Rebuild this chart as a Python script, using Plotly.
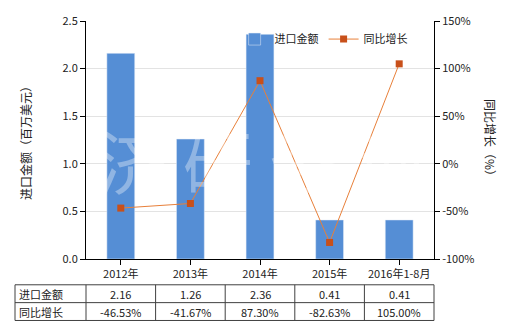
import plotly.graph_objects as go

categories = ["2012年", "2013年", "2014年", "2015年", "2016年1-8月"]
import_values = [2.16, 1.26, 2.36, 0.41, 0.41]
growth_values = [-46.53, -41.67, 87.30, -82.63, 105.00]
import_labels = ["2.16", "1.26", "2.36", "0.41", "0.41"]
growth_labels = ["-46.53%", "-41.67%", "87.30%", "-82.63%", "105.00%"]
left_ticks = [0, 0.5, 1.0, 1.5, 2.0, 2.5]
right_ticks = [-100, -50, 0, 50, 100, 150]
right_tick_text = ["-100%", "-50%", "0%", "50%", "100%", "150%"]

FONT = "Noto Sans CJK SC"
W, H = 520, 330
L, R, T, B = 86, 86, 19, 71
ph = H - T - B
pw = W - L - R

fig = go.Figure()
fig.add_trace(go.Bar(x=categories, y=import_values, name="进口金额",
                     marker_color="#558ED5", width=0.4, yaxis="y"))
fig.add_trace(go.Scatter(x=categories, y=growth_values, name="同比增长", yaxis="y2",
                         mode="lines+markers",
                         line=dict(color="#E8803A", width=1),
                         marker=dict(color="#C8501A", size=7, symbol="square")))

def py(pix):
    return (H - B - pix) / ph

shapes = []
annotations = []
row_top, row_mid, row_bot = py(285), py(303), py(321)
left_paper = (15 - L) / pw
line = dict(color="#404040", width=1)
for yv in (row_top, row_mid, row_bot):
    shapes.append(dict(type="line", xref="paper", yref="paper", x0=left_paper, x1=1,
                       y0=yv, y1=yv, line=line))
shapes.append(dict(type="line", xref="paper", yref="paper", x0=left_paper, x1=left_paper,
                   y0=row_top, y1=row_bot, line=line))
for i in range(len(categories) + 1):
    xp = i / len(categories)
    shapes.append(dict(type="line", xref="paper", yref="paper", x0=xp, x1=xp,
                       y0=row_top, y1=row_bot, line=line))

cell_font = dict(size=11, color="#222", family=FONT)
for i, c in enumerate(categories):
    xp = (i + 0.5) / len(categories)
    annotations.append(dict(xref="paper", yref="paper", x=xp, y=(row_top + row_mid) / 2,
                            xanchor="center", yanchor="middle",
                            text=import_labels[i], showarrow=False, font=cell_font))
    annotations.append(dict(xref="paper", yref="paper", x=xp, y=(row_mid + row_bot) / 2,
                            xanchor="center", yanchor="middle",
                            text=growth_labels[i], showarrow=False, font=cell_font))
for txt, yv in (("进口金额", (row_top + row_mid) / 2), ("同比增长", (row_mid + row_bot) / 2)):
    annotations.append(dict(xref="paper", yref="paper", x=(17 - L) / pw, y=yv,
                            xanchor="left", yanchor="middle", text=txt, showarrow=False,
                            font=cell_font))

annotations.append(dict(xref="paper", yref="paper", x=(491 - L) / pw, y=0.5,
                        xanchor="center", yanchor="middle",
                        text="同比增长（%）", textangle=90, showarrow=False,
                        font=dict(size=12, color="#222", family=FONT)))
annotations.append(dict(xref="paper", yref="paper", x=0.5, y=0.42,
                        xanchor="center", yanchor="middle",
                        text="济 研 咨 询", showarrow=False,
                        font=dict(size=70, color="rgba(255,255,255,0.35)", family=FONT)))

fig.update_layout(
    width=W, height=H,
    margin=dict(l=L, r=R, t=T, b=B),
    paper_bgcolor="white", plot_bgcolor="white",
    font=dict(family=FONT, size=11, color="#222"),
    showlegend=True,
    legend=dict(orientation="h", x=0.427, y=0.985, xanchor="left", yanchor="top",
                bgcolor="rgba(0,0,0,0)", font=dict(size=11, family=FONT),
                traceorder="normal"),
    xaxis=dict(type="category", showline=True, linecolor="black", ticks="outside",
               ticklen=5, tickcolor="black", showgrid=False,
               tickfont=dict(size=11, family=FONT)),
    yaxis=dict(range=[0, 2.5], tickvals=left_ticks, tickformat=".1f",
               showline=True, linecolor="black", ticks="outside", ticklen=5,
               tickcolor="black", showgrid=True, gridcolor="#E3E3E3", zeroline=False,
               title=dict(text="进口金额（百万美元）", font=dict(size=12, family=FONT),
                          standoff=28)),
    yaxis2=dict(range=[-100, 150], tickvals=right_ticks, ticktext=right_tick_text,
                overlaying="y", side="right", showline=True, linecolor="black",
                ticks="outside", ticklen=5, tickcolor="black", showgrid=False,
                zeroline=False),
    shapes=shapes,
    annotations=annotations,
    bargap=0.6,
)

fig.write_html("out.html")
